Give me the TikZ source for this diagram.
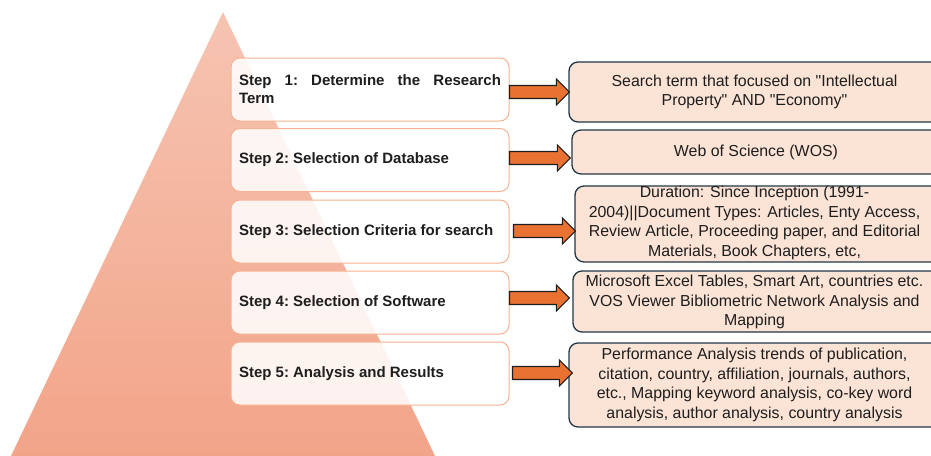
\documentclass[tikz,border=0pt]{standalone}
\usepackage{fontspec}
\setmainfont{Liberation Sans}
\usetikzlibrary{calc}
\definecolor{tritop}{RGB}{246,196,178}
\definecolor{tribot}{RGB}{242,164,136}
\definecolor{lborder}{RGB}{246,178,146}
\definecolor{rfill}{RGB}{251,227,214}
\definecolor{rborder}{RGB}{33,55,70}
\definecolor{arrfill}{RGB}{233,113,50}
\definecolor{txt}{RGB}{30,30,30}
\tikzset{
  lbox/.style={draw=lborder, line width=1pt, fill=white, fill opacity=0.86, text opacity=1,
    rounded corners=9pt, minimum width=278pt, minimum height=63pt, inner sep=0pt,
    text width=262pt, align=justify, font=\frenchspacing\bfseries\fontsize{15}{18}\selectfont, text=txt},
  rbox/.style={draw=rborder, line width=1.3pt, fill=rfill, rounded corners=9pt, inner sep=0pt},
  rtext/.style={align=center, font=\fontsize{15.9}{19.6}\selectfont, text=txt, inner sep=0pt},
  barrow/.style={draw=txt, line width=1.2pt, fill=arrfill, line join=miter}
}
% block arrow from node #1 to node #2 at height #3, start offset #4, tip offset #5
\newcommand{\barrow}[5]{%
  \path[barrow] let \p1=(#1.east), \p2=(#2.west) in
    (\x1+#4pt,#3pt+6.5pt) -- (\x2+#5pt-13pt,#3pt+6.5pt) -- (\x2+#5pt-13pt,#3pt+13pt) -- (\x2+#5pt,#3pt)
    -- (\x2+#5pt-13pt,#3pt-13pt) -- (\x2+#5pt-13pt,#3pt-6.5pt) -- (\x1+#4pt,#3pt-6.5pt) -- cycle;}
\begin{document}
\begin{tikzpicture}[x=1pt,y=1pt]
\useasboundingbox (0,0) rectangle (931,-455);
\begin{scope}[y=-1pt]
\clip (0,0) rectangle (931,455);
% pyramid
\shade[top color=tritop, bottom color=tribot] (223,12) -- (436,458) -- (10,458) -- cycle;
% left boxes
\node[lbox] (L1) at (370,89.5) {Step 1: Determine the Research\linebreak Term};
\node[lbox] (L2) at (370,160) {Step 2: Selection of Database};
\node[lbox] (L3) at (370,231.5) {Step 3: Selection Criteria for search};
\node[lbox] (L4) at (370,302.5) {Step 4: Selection of Software};
\node[lbox] (L5) at (370,373.5) {Step 5: Analysis and Results};
% right boxes
\node[rbox, minimum width=371pt, minimum height=60pt] (R1) at (754.5,92) {};
\node[rbox, minimum width=368pt, minimum height=44pt] (R2) at (756,152) {};
\node[rbox, minimum width=365pt, minimum height=76pt] (R3) at (757.5,224) {};
\node[rbox, minimum width=367pt, minimum height=61pt] (R4) at (756.5,301.5) {};
\node[rbox, minimum width=371pt, minimum height=84pt] (R5) at (754.5,385) {};
\node[rtext] (T1) at (R1) {Search term that focused on \textquotedbl Intellectual\\Property\textquotedbl{} AND \textquotedbl Economy\textquotedbl};
\node[rtext] (T2) at (R2) {Web of Science (WOS)};
\node[rtext] (T3) at (754.5,223) {Duration: Since Inception (1991-\\2004)||Document Types: Articles, Enty Access,\\Review Article, Proceeding paper, and Editorial\\Materials, Book Chapters, etc,};
\node[rtext] (T4) at (754.5,302) {Microsoft Excel Tables, Smart Art, countries etc.\\VOS Viewer Bibliometric Network Analysis and\\Mapping};
\node[rtext] (T5) at (R5) {Performance Analysis trends of publication,\\citation, country, affiliation, journals, authors,\\etc., Mapping keyword analysis, co-key word\\analysis, author analysis, country analysis};
\end{scope}
% arrows (drawn in y-up frame with negative y)
\barrow{L1}{R1}{-92}{0}{1}
\barrow{L2}{R2}{-158}{0}{-1}
\barrow{L3}{R3}{-231}{4}{1}
\barrow{L4}{R4}{-298}{0}{-3}
\barrow{L5}{R5}{-373}{3}{4}
\end{tikzpicture}
\end{document}
